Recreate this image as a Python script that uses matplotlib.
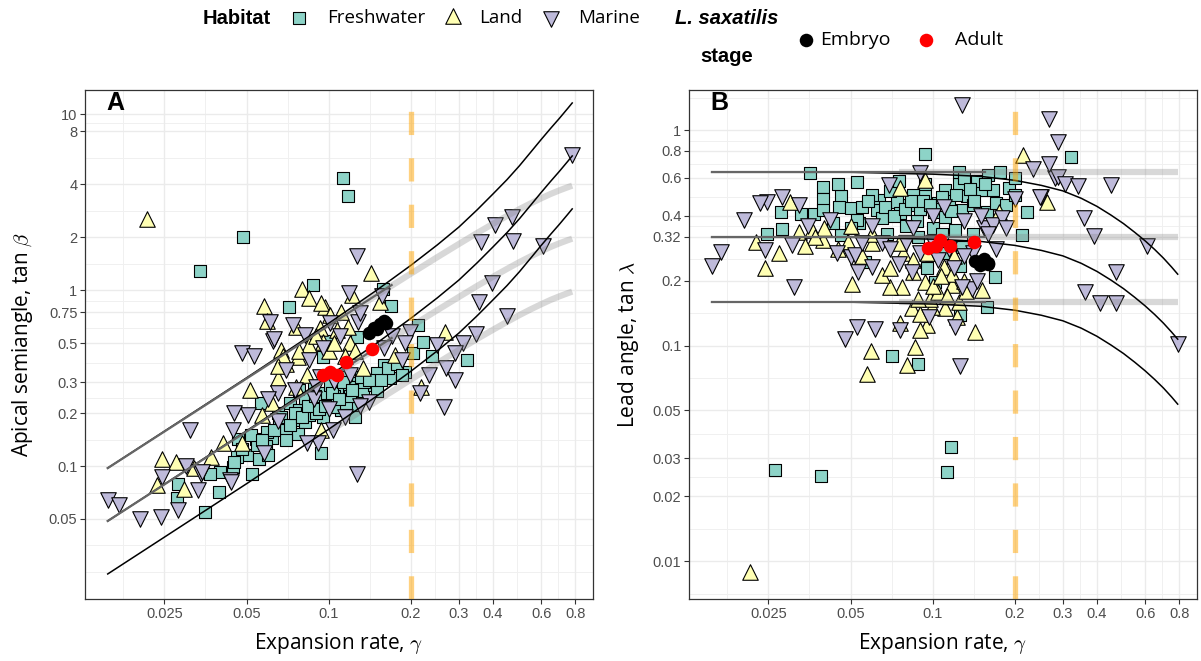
import matplotlib
matplotlib.use('Agg')
import matplotlib.pyplot as plt
import numpy as np

plt.rcParams['font.family'] = ['Liberation Sans', 'DejaVu Sans']
plt.rcParams['mathtext.fontset'] = 'cm'

# ---------------- panel A: apical semiangle ----------------
fresh_A_g = [0.0338, 0.0486, 0.113, 0.118, 0.0879, 0.158, 0.169, 0.0713, 0.127, 0.101,
             0.095, 0.160, 0.168, 0.191, 0.204, 0.212, 0.221, 0.0563, 0.066, 0.0762,
             0.082, 0.0877, 0.101, 0.111, 0.110, 0.128, 0.134, 0.147, 0.125, 0.125,
             0.094, 0.0466, 0.054, 0.050, 0.0555, 0.0622, 0.040, 0.0368, 0.0395, 0.0446,
             0.0524, 0.0352, 0.028, 0.0277, 0.078, 0.088, 0.094, 0.101, 0.116, 0.119,
             0.135, 0.150, 0.150, 0.072, 0.078, 0.085, 0.095, 0.107, 0.116, 0.070,
             0.0774, 0.0595, 0.059, 0.0545, 0.0461, 0.32, 0.24, 0.082, 0.09, 0.105,
             0.12, 0.065, 0.07, 0.06, 0.045, 0.048, 0.052, 0.057, 0.063, 0.067,
             0.072, 0.075, 0.08, 0.084, 0.089, 0.092, 0.097, 0.103, 0.109, 0.113,
             0.122, 0.131, 0.14, 0.155, 0.165, 0.178, 0.185]
fresh_A_b = [1.29, 2.0, 4.36, 3.43, 1.07, 1.02, 0.81, 0.80, 0.54, 0.515,
             0.414, 0.375, 0.315, 0.34, 0.44, 0.63, 0.51, 0.227, 0.175, 0.183,
             0.178, 0.227, 0.237, 0.208, 0.27, 0.297, 0.267, 0.288, 0.222, 0.191,
             0.118, 0.142, 0.142, 0.116, 0.11, 0.144, 0.093, 0.09, 0.0716, 0.099,
             0.09, 0.055, 0.079, 0.066, 0.27, 0.28, 0.26, 0.288, 0.32, 0.28,
             0.30, 0.336, 0.266, 0.227, 0.208, 0.195, 0.191, 0.217, 0.227, 0.16,
             0.153, 0.157, 0.13, 0.132, 0.113, 0.40, 0.42, 0.245, 0.2, 0.25,
             0.25, 0.2, 0.14, 0.115, 0.105, 0.125, 0.15, 0.14, 0.16, 0.19,
             0.17, 0.2, 0.19, 0.22, 0.25, 0.21, 0.22, 0.26, 0.24, 0.3,
             0.27, 0.32, 0.31, 0.31, 0.36, 0.38, 0.33]

land_A_g = [0.0215, 0.143, 0.080, 0.085, 0.122, 0.154, 0.0577, 0.0966, 0.0595, 0.0758,
            0.107, 0.118, 0.0774, 0.070, 0.175, 0.218, 0.0654, 0.0514, 0.0622, 0.094,
            0.032, 0.076, 0.057, 0.048, 0.041, 0.037, 0.134, 0.094, 0.101, 0.111,
            0.093, 0.095, 0.085, 0.067, 0.0245, 0.0275, 0.0234, 0.0296, 0.267, 0.083,
            0.1, 0.068, 0.12, 0.065, 0.078, 0.09, 0.105, 0.115, 0.125]
land_A_b = [2.55, 1.25, 1.02, 0.90, 0.94, 0.86, 0.81, 0.80, 0.67, 0.62,
            0.59, 0.62, 0.414, 0.38, 0.43, 0.282, 0.315, 0.27, 0.227, 0.16,
            0.097, 0.28, 0.195, 0.135, 0.135, 0.113, 0.36, 0.84, 0.72, 0.75,
            0.61, 0.51, 0.49, 0.456, 0.11, 0.106, 0.078, 0.074, 0.58, 0.33,
            0.45, 0.42, 0.5, 0.37, 0.45, 0.55, 0.5, 0.42, 0.45]

marine_A_g = [0.127, 0.0627, 0.048, 0.0533, 0.0505, 0.091, 0.127, 0.0445, 0.034, 0.0435,
              0.0333, 0.031, 0.0927, 0.0654, 0.141, 0.104, 0.083, 0.058, 0.101, 0.128,
              0.074, 0.082, 0.061, 0.063, 0.119, 0.13, 0.030, 0.0343, 0.0244, 0.0155,
              0.0171, 0.0203, 0.0243, 0.028, 0.0437, 0.78, 0.47, 0.405, 0.36, 0.475,
              0.61, 0.395, 0.355, 0.45, 0.345, 0.31, 0.29, 0.25, 0.27, 0.29,
              0.234, 0.264, 0.216, 0.198, 0.157, 0.17, 0.19, 0.16, 0.185, 0.12,
              0.105, 0.088, 0.065, 0.07, 0.085, 0.095, 0.11, 0.075, 0.09, 0.1,
              0.115, 0.13, 0.06, 0.045]
marine_A_b = [1.56, 0.515, 0.44, 0.42, 0.195, 0.135, 0.09, 0.16, 0.09, 0.0835,
              0.073, 0.16, 0.32, 0.26, 0.232, 0.16, 0.136, 0.118, 0.65, 0.66,
              0.63, 0.555, 0.66, 0.53, 0.96, 0.74, 0.10, 0.092, 0.087, 0.064,
              0.06, 0.05, 0.051, 0.056, 0.081, 5.85, 2.61, 2.34, 1.88, 1.91,
              1.78, 1.09, 0.85, 0.71, 0.56, 0.50, 0.44, 0.49, 0.36, 0.31,
              0.33, 0.217, 0.26, 0.58, 0.93, 0.55, 0.5, 0.47, 0.4, 0.33,
              0.3, 0.24, 0.18, 0.35, 0.4, 0.47, 0.55, 0.27, 0.28, 0.21,
              0.19, 0.22, 0.24, 0.2]

embryo_A_g = [0.141, 0.147, 0.154, 0.16, 0.162, 0.15]
embryo_A_b = [0.57, 0.61, 0.64, 0.67, 0.65, 0.6]
adult_A_g = [0.144, 0.116, 0.095, 0.101, 0.107]
adult_A_b = [0.46, 0.39, 0.33, 0.34, 0.33]

# model curves
curve_g = [0.0155, 0.05, 0.1, 0.15, 0.2, 0.25, 0.3, 0.35, 0.4, 0.45, 0.5, 0.55, 0.6,
           0.65, 0.7, 0.75, 0.78]
exactA_hi = [0.0974, 0.317, 0.647, 0.999, 1.382, 1.806, 2.281, 2.859, 3.519, 4.241,
             5.089, 6.082, 7.163, 8.291, 9.456, 10.744, 11.566]
exactA_mid = [0.0487, 0.1585, 0.3235, 0.4995, 0.691, 0.903, 1.1405, 1.4295, 1.7595,
              2.1205, 2.5445, 3.041, 3.5815, 4.1455, 4.728, 5.372, 5.783]
exactA_lo = [0.02435, 0.0793, 0.1618, 0.2498, 0.3455, 0.4515, 0.570, 0.715, 0.880,
             1.060, 1.272, 1.520, 1.791, 2.073, 2.364, 2.686, 2.892]
band_g = [0.1, 0.15, 0.2, 0.25, 0.3, 0.35, 0.4, 0.45, 0.5, 0.55, 0.6, 0.65, 0.7, 0.75, 0.78]
bandA_hi = [0.626, 0.936, 1.240, 1.538, 1.828, 2.111, 2.380, 2.638, 2.884, 3.110,
            3.321, 3.516, 3.685, 3.836, 3.921]
bandA_mid = [0.313, 0.468, 0.620, 0.769, 0.914, 1.056, 1.190, 1.319, 1.442, 1.555,
             1.661, 1.758, 1.843, 1.918, 1.960]
bandA_lo = [0.1565, 0.234, 0.310, 0.3845, 0.457, 0.528, 0.595, 0.6595, 0.721, 0.7775,
            0.830, 0.879, 0.921, 0.959, 0.980]
approx_g = [0.0155, 0.17]
approxA_hi = [0.0973, 1.068]
approxA_mid = [0.0487, 0.534]

# ---------------- panel B: lead angle ----------------
fresh_B_g = [0.0264, 0.0389, 0.117, 0.113, 0.0277, 0.028, 0.0247, 0.033, 0.0354, 0.0368,
             0.0395, 0.0395, 0.0398, 0.046, 0.0453, 0.0463, 0.05, 0.053, 0.0553, 0.0536,
             0.0565, 0.0711, 0.0885, 0.126, 0.158, 0.169, 0.102, 0.095, 0.126, 0.111,
             0.128, 0.0634, 0.0625, 0.074, 0.076, 0.0817, 0.0877, 0.094, 0.094, 0.101,
             0.105, 0.111, 0.111, 0.1245, 0.134, 0.128, 0.121, 0.151, 0.167, 0.158,
             0.19, 0.177, 0.221, 0.212, 0.125, 0.0935, 0.053, 0.32, 0.085, 0.07,
             0.065, 0.08, 0.115, 0.14, 0.145, 0.13, 0.06, 0.1, 0.09, 0.2,
             0.16, 0.075, 0.045, 0.058, 0.067, 0.072, 0.079, 0.083, 0.092, 0.098,
             0.108, 0.117, 0.122, 0.137, 0.142, 0.155, 0.17, 0.185, 0.2, 0.043,
             0.05, 0.068, 0.088, 0.108, 0.14]
fresh_B_l = [0.0265, 0.0248, 0.034, 0.0258, 0.418, 0.346, 0.33, 0.41, 0.634, 0.41,
             0.545, 0.48, 0.425, 0.494, 0.44, 0.326, 0.433, 0.575, 0.44, 0.372,
             0.245, 0.089, 0.082, 0.139, 0.151, 0.207, 0.198, 0.228, 0.234, 0.268,
             0.287, 0.473, 0.425, 0.465, 0.413, 0.45, 0.38, 0.505, 0.565, 0.418,
             0.457, 0.527, 0.396, 0.56, 0.494, 0.425, 0.344, 0.527, 0.527, 0.418,
             0.54, 0.64, 0.418, 0.326, 0.64, 0.774, 0.382, 0.75, 0.5, 0.52,
             0.39, 0.36, 0.47, 0.45, 0.58, 0.6, 0.5, 0.35, 0.43, 0.6,
             0.62, 0.58, 0.56, 0.47, 0.44, 0.4, 0.43, 0.47, 0.47, 0.45,
             0.49, 0.42, 0.5, 0.53, 0.47, 0.56, 0.46, 0.45, 0.5, 0.37,
             0.35, 0.33, 0.32, 0.33, 0.33]

land_B_g = [0.0214, 0.0301, 0.0273, 0.0242, 0.0323, 0.0362, 0.0398, 0.040, 0.049, 0.0508,
            0.0592, 0.0576, 0.0762, 0.086, 0.0806, 0.0953, 0.090, 0.111, 0.123, 0.143,
            0.084, 0.099, 0.098, 0.152, 0.118, 0.105, 0.077, 0.07, 0.065, 0.094,
            0.11, 0.118, 0.078, 0.094, 0.076, 0.0225, 0.037, 0.1745, 0.262, 0.215,
            0.06, 0.085, 0.1, 0.13, 0.07, 0.045, 0.12, 0.09, 0.055, 0.088,
            0.1, 0.107, 0.113, 0.125, 0.132, 0.085, 0.095, 0.075, 0.06, 0.05,
            0.034]
land_B_l = [0.0089, 0.465, 0.268, 0.228, 0.337, 0.344, 0.309, 0.35, 0.303, 0.193,
            0.094, 0.074, 0.127, 0.098, 0.081, 0.125, 0.118, 0.149, 0.136, 0.116,
            0.149, 0.151, 0.165, 0.181, 0.191, 0.178, 0.187, 0.187, 0.212, 0.198,
            0.232, 0.216, 0.268, 0.586, 0.536, 0.303, 0.32, 0.418, 0.465, 0.765,
            0.3, 0.25, 0.27, 0.2, 0.23, 0.28, 0.26, 0.14, 0.26, 0.165,
            0.19, 0.21, 0.17, 0.16, 0.18, 0.22, 0.27, 0.3, 0.33, 0.36,
            0.29]

marine_B_g = [0.0155, 0.0168, 0.0203, 0.0247, 0.028, 0.0242, 0.031, 0.0306, 0.0323, 0.0446,
              0.05, 0.06, 0.0533, 0.0477, 0.0528, 0.0617, 0.0762, 0.097, 0.121, 0.126,
              0.139, 0.128, 0.084, 0.075, 0.052, 0.09, 0.069, 0.0233, 0.0422, 0.154,
              0.167, 0.179, 0.25, 0.28, 0.128, 0.266, 0.289, 0.233, 0.266, 0.289,
              0.305, 0.342, 0.45, 0.247, 0.357, 0.39, 0.61, 0.47, 0.36, 0.409,
              0.47, 0.79, 0.065, 0.08, 0.1, 0.115, 0.14, 0.035, 0.06, 0.15,
              0.11, 0.2, 0.09, 0.105, 0.12, 0.13, 0.145, 0.16, 0.055, 0.07,
              0.085, 0.1, 0.13, 0.17, 0.185]
marine_B_l = [0.234, 0.272, 0.382, 0.465, 0.487, 0.277, 0.187, 0.292, 0.45, 0.268,
              0.258, 0.232, 0.22, 0.107, 0.122, 0.12, 0.118, 0.136, 0.122, 0.08,
              0.184, 0.187, 0.22, 0.24, 0.263, 0.63, 0.555, 0.457, 0.382, 0.352,
              0.362, 0.39, 0.49, 0.60, 1.31, 1.13, 0.88, 0.657, 0.696, 0.607,
              0.56, 0.55, 0.555, 0.487, 0.39, 0.322, 0.29, 0.22, 0.178, 0.157,
              0.157, 0.102, 0.3, 0.3, 0.3, 0.28, 0.27, 0.36, 0.36, 0.4,
              0.44, 0.48, 0.27, 0.25, 0.23, 0.26, 0.2, 0.33, 0.3, 0.28,
              0.35, 0.4, 0.38, 0.28, 0.35]

embryo_B_g = [0.143, 0.154, 0.16, 0.149, 0.147, 0.159]
embryo_B_l = [0.247, 0.251, 0.239, 0.236, 0.245, 0.242]
adult_B_g = [0.096, 0.103, 0.106, 0.116, 0.142]
adult_B_l = [0.285, 0.29, 0.31, 0.29, 0.304]

curveB_g = [0.0155, 0.05, 0.1, 0.15, 0.2, 0.25, 0.3, 0.35, 0.4, 0.45, 0.5, 0.55, 0.6,
            0.65, 0.7, 0.75, 0.79]
exactB_hi = [0.637, 0.637, 0.6245, 0.6096, 0.5844, 0.5539, 0.5221, 0.4826, 0.4424,
             0.4032, 0.3682, 0.3353, 0.3063, 0.2794, 0.2548, 0.2316, 0.2145]
exactB_mid = [0.318, 0.318, 0.3118, 0.3043, 0.2917, 0.2765, 0.2607, 0.2409, 0.2208,
              0.2013, 0.1838, 0.1674, 0.1529, 0.1395, 0.1272, 0.1156, 0.1071]
exactB_lo = [0.159, 0.159, 0.1559, 0.1522, 0.1459, 0.1383, 0.1303, 0.1205, 0.1104,
             0.1006, 0.0919, 0.0837, 0.0764, 0.0697, 0.0636, 0.0578, 0.0535]
bandB_g = [0.075, 0.79]
approxB_g = [0.0155, 0.155]
lead_levels = [0.637, 0.318, 0.159]

x_ticks = [0.025, 0.05, 0.1, 0.2, 0.3, 0.4, 0.6, 0.8]
x_labels = ['0.025', '0.05', '0.1', '0.2', '0.3', '0.4', '0.6', '0.8']
yA_ticks = [0.05, 0.1, 0.2, 0.3, 0.5, 0.75, 1, 2, 4, 8, 10]
yA_labels = ['0.05', '0.1', '0.2', '0.3', '0.5', '0.75', '1', '2', '4', '8', '10']
yB_ticks = [0.01, 0.02, 0.03, 0.05, 0.1, 0.2, 0.32, 0.4, 0.6, 0.8, 1]
yB_labels = ['0.01', '0.02', '0.03', '0.05', '0.1', '0.2', '0.32', '0.4', '0.6', '0.8', '1']

FRESH = '#8dd3c7'
LAND = '#ffffb3'
MARINE = '#bebada'
TITLE_FONT = ['Open Sans', 'DejaVu Sans']

fig = plt.figure(figsize=(12.01, 6.61), dpi=100)
axA = fig.add_axes([0.0708, 0.0938, 0.4230, 0.7700])
axB = fig.add_axes([0.5737, 0.0938, 0.4230, 0.7700])


def minor_positions(ticks, lo, hi):
    lt = np.log10(ticks)
    step = lt[1] - lt[0]
    ext = np.concatenate([[lt[0] - step], lt, [lt[-1] + step]])
    mids = list((ext[:-1] + ext[1:]) / 2) + [ext[0], ext[-1]]
    return [10 ** m for m in mids if np.log10(lo) < m < np.log10(hi)]


def setup(ax, yticks, ylabels, ylim):
    xlim = (0.0128, 0.93)
    ax.set_xscale('log')
    ax.set_yscale('log')
    ax.set_xlim(*xlim)
    ax.set_ylim(*ylim)
    for v in minor_positions(x_ticks, *xlim):
        ax.axvline(v, color='#f0f0f0', lw=0.7, zorder=0)
    for v in minor_positions(yticks, *ylim):
        ax.axhline(v, color='#f0f0f0', lw=0.7, zorder=0)
    for v in x_ticks:
        ax.axvline(v, color='#ebebeb', lw=1.0, zorder=0.5)
    for v in yticks:
        ax.axhline(v, color='#ebebeb', lw=1.0, zorder=0.5)
    ax.set_xticks(x_ticks)
    ax.set_xticklabels(x_labels)
    ax.set_yticks(yticks)
    ax.set_yticklabels(ylabels)
    ax.minorticks_off()
    ax.tick_params(length=3.5, width=0.8, color='#333333', labelcolor='#4d4d4d',
                   labelsize=10.5, pad=2)
    for s in ax.spines.values():
        s.set_color('#333333')
        s.set_linewidth(0.9)
    ax.axvline(0.2, color='orange', alpha=0.5, lw=3.8, dashes=(4.4, 4.4), zorder=6)


def habitat_points(ax, fg, fv, lg, lv, mg, mv):
    ax.scatter(fg, fv, marker='s', s=72, c=FRESH, edgecolors='black', linewidths=0.8, zorder=2)
    ax.scatter(lg, lv, marker='^', s=125, c=LAND, edgecolors='black', linewidths=0.8, zorder=2)
    ax.scatter(mg, mv, marker='v', s=125, c=MARINE, edgecolors='black', linewidths=0.8, zorder=2)


# panel A
setup(axA, yA_ticks, yA_labels, (0.01755, 13.7))
habitat_points(axA, fresh_A_g, fresh_A_b, land_A_g, land_A_b, marine_A_g, marine_A_b)
for band in (bandA_hi, bandA_mid, bandA_lo):
    axA.plot(band_g, band, color='gray', alpha=0.3, lw=4.5, solid_capstyle='butt', zorder=3)
for ex in (exactA_hi, exactA_mid, exactA_lo):
    axA.plot(curve_g, ex, color='black', lw=1.1, zorder=4)
for ap in (approxA_hi, approxA_mid):
    axA.plot(approx_g, ap, color='#666666', lw=1.6, zorder=5)
axA.scatter(embryo_A_g, embryo_A_b, s=95, c='black', linewidths=0, zorder=7)
axA.scatter(adult_A_g, adult_A_b, s=95, c='red', linewidths=0, zorder=7)
axA.text(0.059, 0.974, 'A', transform=axA.transAxes, ha='center', va='center',
         fontsize=18, fontweight='bold')
axA.text(0.5, -0.088, r'Expansion rate, $\gamma$', transform=axA.transAxes,
         ha='center', va='center', fontsize=15, family=TITLE_FONT)
axA.text(-0.124, 0.5, r'Apical semiangle, tan $\beta$', transform=axA.transAxes,
         ha='center', va='center', rotation=90, fontsize=15, family=TITLE_FONT)

# panel B
setup(axB, yB_ticks, yB_labels, (0.00667, 1.534))
habitat_points(axB, fresh_B_g, fresh_B_l, land_B_g, land_B_l, marine_B_g, marine_B_l)
for lev in lead_levels:
    axB.plot(bandB_g, [lev, lev], color='gray', alpha=0.3, lw=4.5, solid_capstyle='butt', zorder=3)
for ex in (exactB_hi, exactB_mid, exactB_lo):
    axB.plot(curveB_g, ex, color='black', lw=1.1, zorder=4)
for lev in lead_levels:
    axB.plot(approxB_g, [lev, lev], color='#666666', lw=1.6, zorder=5)
axB.scatter(embryo_B_g, embryo_B_l, s=95, c='black', linewidths=0, zorder=7)
axB.scatter(adult_B_g, adult_B_l, s=95, c='red', linewidths=0, zorder=7)
axB.text(0.059, 0.974, 'B', transform=axB.transAxes, ha='center', va='center',
         fontsize=18, fontweight='bold')
axB.text(0.5, -0.088, r'Expansion rate, $\gamma$', transform=axB.transAxes,
         ha='center', va='center', fontsize=15, family=TITLE_FONT)
axB.text(-0.12, 0.5, r'Lead angle, tan $\lambda$', transform=axB.transAxes,
         ha='center', va='center', rotation=90, fontsize=15, family=TITLE_FONT)

# legend strip on top
lg = fig.add_axes([0, 0, 1, 1], zorder=10)
lg.set_xlim(0, 1201)
lg.set_ylim(661, 0)
lg.axis('off')
lg.text(203, 18, 'Habitat', fontsize=14.5, fontweight='bold', va='center')
lg.scatter([299], [18], marker='s', s=72, c=FRESH, edgecolors='black', linewidths=0.8)
lg.text(327, 18, 'Freshwater', fontsize=13.5, va='center', family=TITLE_FONT)
lg.scatter([453], [16], marker='^', s=125, c=LAND, edgecolors='black', linewidths=0.8)
lg.text(479, 18, 'Land', fontsize=13.5, va='center', family=TITLE_FONT)
lg.scatter([551], [19], marker='v', s=125, c=MARINE, edgecolors='black', linewidths=0.8)
lg.text(578, 18, 'Marine', fontsize=13.5, va='center', family=TITLE_FONT)
lg.text(727, 18, 'L. saxatilis', fontsize=14.5, fontweight='bold', style='italic',
        ha='center', va='center')
lg.text(727, 56, 'stage', fontsize=14.5, fontweight='bold', ha='center', va='center')
lg.scatter([806], [40], s=95, c='black', linewidths=0)
lg.text(820, 40, 'Embryo', fontsize=14, va='center', family=TITLE_FONT)
lg.scatter([926], [40], s=95, c='red', linewidths=0)
lg.text(955, 40, 'Adult', fontsize=14, va='center', family=TITLE_FONT)

fig.savefig('out.png', dpi=100)
